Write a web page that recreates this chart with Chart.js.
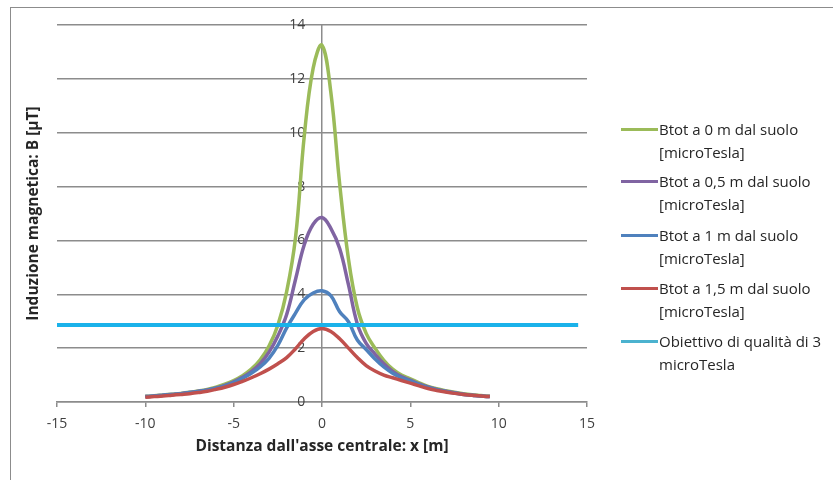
<!DOCTYPE html>
<html>
<head>
<meta charset="utf-8">
<script src="https://cdn.jsdelivr.net/npm/chart.js@4.4.1/dist/chart.umd.min.js"></script>
<style>
  body { margin: 0; background: #fff; font-family: "Open Sans", sans-serif; }
  #wrap { position: relative; width: 833px; height: 480px; overflow: hidden; }
  #frame { position: absolute; left: 10px; top: 7px; width: 830px; height: 480px; border: 1px solid #8c8c8c; pointer-events: none; }
  .item { position: absolute; left: 621px; font-size: 15px; line-height: 22.7px; color: #262626; }
  .item .sw { position: absolute; left: 0; top: 9.6px; width: 37px; height: 3.5px; }
  .item .txt { margin-left: 38px; white-space: nowrap; }
</style>
</head>
<body>
<div id="wrap">
  <canvas id="chart" width="833" height="480"></canvas>
  <div id="legend"></div>
  <div id="frame"></div>
</div>
<script>
const xValues = [-10, -9.5, -9, -8.5, -8, -7.5, -7, -6.5, -6, -5.5, -5, -4.5, -4, -3.5, -3, -2.5, -2, -1.5, -1, -0.5,
  0, 0.5, 1, 1.5, 2, 2.5, 3, 3.5, 4, 4.5, 5, 5.5, 6, 6.5, 7, 7.5, 8, 8.5, 9, 9.5];

const b0 = [0.21, 0.23, 0.26, 0.29, 0.32, 0.36, 0.41, 0.47, 0.55, 0.66, 0.80, 0.98, 1.22, 1.57, 2.08, 2.85, 4.10, 6.10, 9.90, 12.40,
  13.25, 11.50, 8.10, 5.30, 3.50, 2.55, 2.00, 1.55, 1.22, 1.00, 0.86, 0.71, 0.58, 0.49, 0.42, 0.36, 0.31, 0.27, 0.24, 0.21];
const b05 = [0.20, 0.22, 0.25, 0.28, 0.31, 0.35, 0.40, 0.45, 0.52, 0.62, 0.75, 0.92, 1.13, 1.42, 1.85, 2.45, 3.25, 4.55, 5.85, 6.60,
  6.85, 6.45, 5.70, 4.35, 2.90, 2.18, 1.78, 1.42, 1.14, 0.94, 0.81, 0.67, 0.56, 0.47, 0.40, 0.34, 0.29, 0.25, 0.22, 0.20];
const b1 = [0.20, 0.22, 0.25, 0.28, 0.31, 0.35, 0.39, 0.44, 0.51, 0.60, 0.72, 0.88, 1.07, 1.30, 1.62, 2.10, 2.75, 3.30, 3.80, 4.05,
  4.13, 3.95, 3.35, 2.98, 2.30, 1.95, 1.60, 1.30, 1.07, 0.90, 0.78, 0.65, 0.54, 0.46, 0.39, 0.33, 0.28, 0.25, 0.22, 0.20];
const b15 = [0.18, 0.20, 0.22, 0.25, 0.28, 0.31, 0.35, 0.40, 0.47, 0.55, 0.65, 0.77, 0.90, 1.05, 1.22, 1.42, 1.65, 1.98, 2.35, 2.62,
  2.73, 2.62, 2.35, 2.00, 1.65, 1.35, 1.15, 1.00, 0.90, 0.80, 0.70, 0.60, 0.50, 0.43, 0.37, 0.32, 0.28, 0.25, 0.22, 0.20];

const targetX = [-15, 14.5];
const targetY = [2.86, 2.86];

const seriesNames = [
  ["Btot a 0 m dal suolo", "[microTesla]"],
  ["Btot a 0,5 m dal suolo", "[microTesla]"],
  ["Btot a 1 m dal suolo", "[microTesla]"],
  ["Btot a 1,5 m dal suolo", "[microTesla]"],
  ["Obiettivo di qualità di 3", "microTesla"]
];
const lineColors = ["#9bbb59", "#8064a2", "#4f81bd", "#c0504d", "#1ab2ea"];
const legendColors = ["#9bbb59", "#8064a2", "#4f81bd", "#c0504d", "#4bb2cf"];

const toPoints = (xs, ys) => xs.map((x, i) => ({ x: x, y: ys[i] }));

const tickFont = { family: "'Open Sans', sans-serif", size: 14 };
const titleFont = { family: "'Open Sans', sans-serif", size: 15.5, weight: "bold" };
const gridColor = "#8c8c8c";

const curves = [b0, b05, b1, b15].map((vals, i) => ({
  label: seriesNames[i].join(" "),
  data: toPoints(xValues, vals),
  borderColor: lineColors[i],
  borderWidth: 3.5,
  pointRadius: 0,
  tension: 0.4,
  order: 5 - i
}));

curves.push({
  label: seriesNames[4].join(" "),
  data: toPoints(targetX, targetY),
  borderColor: lineColors[4],
  borderWidth: 4,
  pointRadius: 0,
  order: 0
});

new Chart(document.getElementById("chart"), {
  type: "line",
  data: { datasets: curves },
  options: {
    responsive: false,
    animation: false,
    layout: { padding: { top: 25, right: 246, bottom: 0, left: 0 } },
    plugins: { legend: { display: false }, tooltip: { enabled: false } },
    scales: {
      x: {
        type: "linear",
        min: -15,
        max: 15,
        afterFit: (s) => { s.height = 78; },
        ticks: { stepSize: 5, font: tickFont, color: "#404040", padding: 9, maxRotation: 0 },
        grid: { drawOnChartArea: false, drawTicks: true, tickLength: 5, color: gridColor, lineWidth: 1.5 },
        border: { color: gridColor, width: 1.5 },
        title: {
          display: true,
          text: "Distanza dall'asse centrale: x [m]",
          font: titleFont,
          color: "#262626",
          padding: { top: 0, bottom: 24 }
        }
      },
      y: {
        min: 0,
        max: 14,
        afterFit: (s) => { s.width = 57; },
        ticks: { display: false, stepSize: 2 },
        grid: { color: gridColor, lineWidth: 1.5, drawTicks: false },
        border: { display: false },
        title: {
          display: true,
          text: "Induzione magnetica: B [µT]",
          font: titleFont,
          color: "#262626",
          padding: { top: 24, bottom: 0 }
        }
      },
      // vertical axis line crossing at x = 0
      yAxisLine: {
        position: { x: 0 },
        min: 0,
        max: 14,
        ticks: { display: false },
        grid: { drawOnChartArea: false, drawTicks: false },
        border: { color: gridColor, width: 1.5 }
      },
      // its labels, a little to the left of the line
      yLabels: {
        position: { x: -0.95 },
        min: 0,
        max: 14,
        ticks: { stepSize: 2, font: tickFont, color: "#404040" },
        grid: { drawOnChartArea: false, drawTicks: false },
        border: { display: false }
      }
    }
  }
});

// legend on the right, two text lines per item
const legendBox = document.getElementById("legend");
const itemTops = [118, 170, 224, 277, 330];
seriesNames.forEach((name, i) => {
  const div = document.createElement("div");
  div.className = "item";
  div.style.top = itemTops[i] + "px";
  div.innerHTML = `<div class="sw" style="background:${legendColors[i]}"></div>
    <div class="txt">${name[0]}<br>${name[1]}</div>`;
  legendBox.appendChild(div);
});
</script>
</body>
</html>
